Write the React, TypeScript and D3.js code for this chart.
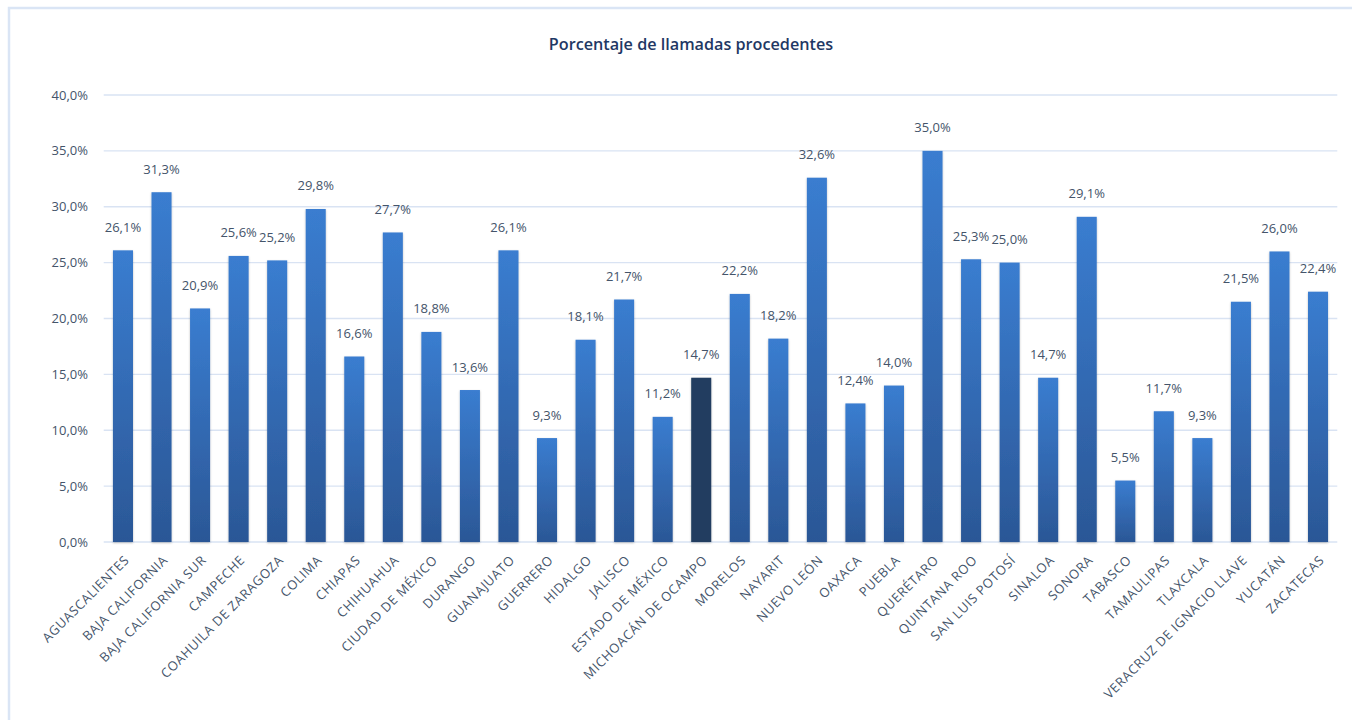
import React from "react";
import * as d3 from "d3";

const states = [
  "AGUASCALIENTES", "BAJA CALIFORNIA", "BAJA CALIFORNIA SUR", "CAMPECHE",
  "COAHUILA DE ZARAGOZA", "COLIMA", "CHIAPAS", "CHIHUAHUA", "CIUDAD DE MÉXICO",
  "DURANGO", "GUANAJUATO", "GUERRERO", "HIDALGO", "JALISCO", "ESTADO DE MÉXICO",
  "MICHOACÁN DE OCAMPO", "MORELOS", "NAYARIT", "NUEVO LEÓN", "OAXACA", "PUEBLA",
  "QUERÉTARO", "QUINTANA ROO", "SAN LUIS POTOSÍ", "SINALOA", "SONORA", "TABASCO",
  "TAMAULIPAS", "TLAXCALA", "VERACRUZ DE IGNACIO LLAVE", "YUCATÁN", "ZACATECAS",
];
const values = [
  26.1, 31.3, 20.9, 25.6, 25.2, 29.8, 16.6, 27.7, 18.8, 13.6, 26.1, 9.3, 18.1,
  21.7, 11.2, 14.7, 22.2, 18.2, 32.6, 12.4, 14.0, 35.0, 25.3, 25.0, 14.7, 29.1,
  5.5, 11.7, 9.3, 21.5, 26.0, 22.4,
];
const highlighted = ["MICHOACÁN DE OCAMPO"];
const yTicks = [0, 5, 10, 15, 20, 25, 30, 35, 40];
const title = "Porcentaje de llamadas procedentes";

const fmt = (v: number, d: number) => v.toFixed(d).replace(".", ",") + "%";

export default function App() {
  const W = 1352, H = 720;
  const left = 103.7, right = 1337.3, top = 95, bottom = 542;
  const x = d3.scaleBand<string>().domain(states).range([left, right]).paddingInner(0.48).paddingOuter(0.24);
  const y = d3.scaleLinear().domain([0, 40]).range([bottom, top]);
  const font = "'Open Sans', 'Noto Sans', sans-serif";
  const txt = "#44546A";
  return (
    <svg width={W} height={H} style={{ position: "absolute", left: 0, top: 0 }}>
      <defs>
        <linearGradient id="barGrad" x1="0" y1="0" x2="0" y2="1">
          <stop offset="0%" stopColor="#3A7DD0" />
          <stop offset="100%" stopColor="#2B5796" />
        </linearGradient>
        <filter id="sh" x="-30%" y="-5%" width="160%" height="110%">
          <feDropShadow dx="0" dy="1" stdDeviation="1.2" floodColor="#000" floodOpacity="0.25" />
        </filter>
      </defs>
      <rect x={0} y={0} width={W} height={H} fill="#fff" />
      <rect x={9} y={8} width={W + 20} height={H + 20} fill="none" stroke="#DAE5F5" strokeWidth={2.5} />
      <text x={691} y={50} textAnchor="middle" fontFamily={font} fontSize={16.2} fontWeight={600} fill="#1F3864">
        {title}
      </text>
      {yTicks.map((t) => (
        <g key={t}>
          <line x1={left} x2={right} y1={y(t)} y2={y(t)} stroke="#D9E3F3" strokeWidth={1.3} />
          <text x={88} y={y(t) + 4.5} textAnchor="end" fontFamily={font} fontSize={13} fill={txt}>
            {fmt(t, 1)}
          </text>
        </g>
      ))}
      {states.map((s, i) => {
        const bx = x(s)!;
        const bw = x.bandwidth();
        const v = values[i];
        const hi = highlighted.includes(s);
        return (
          <g key={s}>
            <rect x={bx} y={y(v)} width={bw} height={y(0) - y(v)} fill={hi ? "#243E60" : "url(#barGrad)"} filter="url(#sh)" />
            <text x={bx + bw / 2} y={y(v) - 18.5} textAnchor="middle" fontFamily={font} fontSize={13} fill={txt}>
              {fmt(v, 1)}
            </text>
            <text
              transform={`translate(${bx + bw / 2 + 7},${bottom + 19}) rotate(-45)`}
              textAnchor="end"
              fontFamily={font}
              fontSize={13}
              letterSpacing={0.6}
              fill={txt}
            >
              {s}
            </text>
          </g>
        );
      })}
    </svg>
  );
}
